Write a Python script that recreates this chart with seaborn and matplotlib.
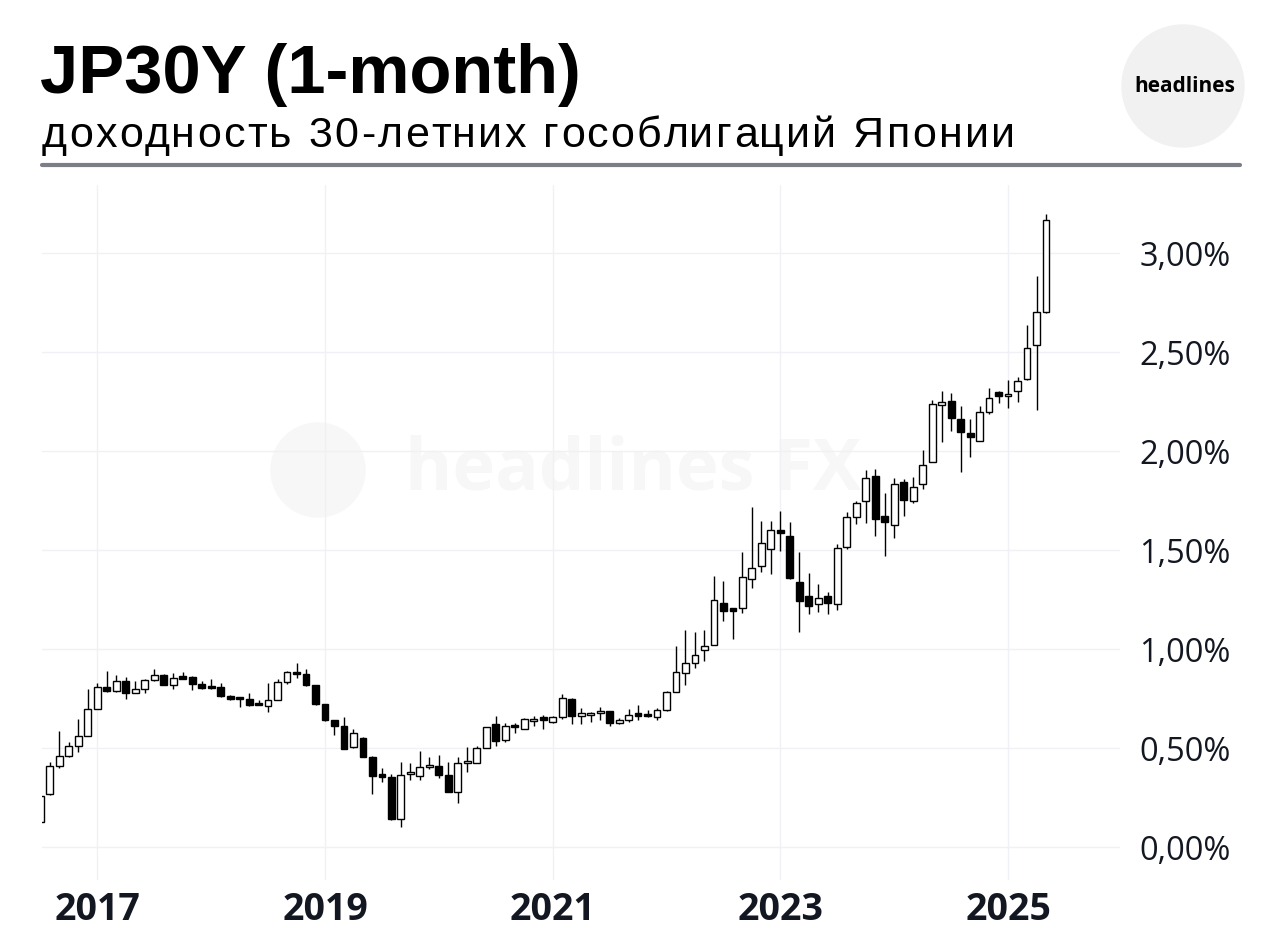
import numpy as np
import pandas as pd
import matplotlib
matplotlib.use("Agg")
import matplotlib.pyplot as plt
import seaborn as sns
from matplotlib.patches import Ellipse
from matplotlib.lines import Line2D
from matplotlib.font_manager import FontProperties

# =========================================
# Data: JP30Y monthly candles, Jul 2016 - May 2025 (yield, %)
# =========================================

months = pd.date_range("2016-07-01", "2025-05-01", freq="MS")

opens = [
    0.13, 0.27, 0.41, 0.46, 0.51, 0.56,
    0.70, 0.81, 0.79, 0.84, 0.78, 0.80, 0.845, 0.87, 0.82, 0.857, 0.86, 0.826,
    0.81, 0.81, 0.765, 0.75, 0.75, 0.72, 0.716, 0.745, 0.833, 0.887, 0.876, 0.82,
    0.725, 0.643, 0.613, 0.505, 0.552, 0.458, 0.362, 0.357, 0.143, 0.37, 0.36, 0.406,
    0.41, 0.365, 0.28, 0.425, 0.428, 0.50, 0.621, 0.54, 0.61, 0.60, 0.638, 0.652,
    0.632, 0.657, 0.749, 0.665, 0.668, 0.678, 0.688, 0.629, 0.641, 0.666, 0.665, 0.66,
    0.695, 0.785, 0.881, 0.93, 0.998, 1.022, 1.234, 1.205, 1.208, 1.356, 1.42, 1.505,
    1.605, 1.573, 1.341, 1.269, 1.231, 1.269, 1.231, 1.519, 1.669, 1.75, 1.877, 1.671,
    1.628, 1.846, 1.747, 1.834, 1.944, 2.236, 2.255, 2.164, 2.091, 2.052, 2.198, 2.298,
    2.28, 2.305, 2.364, 2.537, 2.702,
]
highs = [
    0.30, 0.43, 0.59, 0.53, 0.65, 0.80,
    0.83, 0.89, 0.87, 0.86, 0.84, 0.85, 0.90, 0.875, 0.88, 0.885, 0.865, 0.84,
    0.85, 0.83, 0.77, 0.76, 0.78, 0.745, 0.83, 0.85, 0.89, 0.93, 0.90, 0.82,
    0.725, 0.645, 0.657, 0.596, 0.555, 0.46, 0.40, 0.37, 0.43, 0.425, 0.487, 0.458,
    0.466, 0.433, 0.455, 0.508, 0.512, 0.61, 0.665, 0.63, 0.63, 0.655, 0.665, 0.668,
    0.665, 0.774, 0.755, 0.702, 0.685, 0.708, 0.69, 0.654, 0.697, 0.717, 0.695, 0.705,
    0.79, 1.017, 1.098, 1.085, 1.098, 1.37, 1.347, 1.21, 1.493, 1.72, 1.649, 1.65,
    1.697, 1.644, 1.492, 1.383, 1.331, 1.291, 1.534, 1.696, 1.75, 1.907, 1.91, 1.792,
    1.863, 1.86, 1.868, 2.007, 2.257, 2.304, 2.296, 2.231, 2.164, 2.231, 2.319, 2.305,
    2.36, 2.374, 2.638, 2.887, 3.199,
]
lows = [
    0.08, 0.265, 0.40, 0.455, 0.48, 0.56,
    0.70, 0.785, 0.785, 0.75, 0.78, 0.78, 0.84, 0.82, 0.80, 0.85, 0.795, 0.80,
    0.80, 0.76, 0.745, 0.71, 0.715, 0.717, 0.685, 0.745, 0.825, 0.857, 0.815, 0.72,
    0.64, 0.567, 0.495, 0.50, 0.455, 0.27, 0.33, 0.14, 0.104, 0.34, 0.34, 0.394,
    0.348, 0.28, 0.222, 0.382, 0.428, 0.50, 0.512, 0.53, 0.576, 0.598, 0.613, 0.598,
    0.63, 0.648, 0.621, 0.623, 0.635, 0.644, 0.615, 0.625, 0.632, 0.644, 0.66, 0.644,
    0.69, 0.785, 0.822, 0.908, 0.941, 1.02, 1.144, 1.05, 1.183, 1.31, 1.392, 1.38,
    1.497, 1.355, 1.09, 1.176, 1.188, 1.179, 1.201, 1.505, 1.632, 1.637, 1.573, 1.471,
    1.564, 1.674, 1.738, 1.809, 1.944, 2.046, 2.105, 1.897, 1.973, 2.05, 2.19, 2.242,
    2.217, 2.247, 2.36, 2.209, 2.70,
]
closes = [
    0.26, 0.41, 0.46, 0.51, 0.56, 0.70,
    0.81, 0.79, 0.84, 0.78, 0.80, 0.845, 0.87, 0.82, 0.855, 0.852, 0.825, 0.803,
    0.805, 0.765, 0.75, 0.748, 0.72, 0.718, 0.745, 0.833, 0.886, 0.875, 0.818, 0.724,
    0.643, 0.613, 0.497, 0.576, 0.458, 0.36, 0.357, 0.143, 0.365, 0.377, 0.406, 0.412,
    0.365, 0.281, 0.428, 0.43, 0.50, 0.609, 0.539, 0.613, 0.606, 0.648, 0.648, 0.645,
    0.66, 0.756, 0.665, 0.668, 0.67, 0.69, 0.627, 0.644, 0.666, 0.665, 0.663, 0.692,
    0.785, 0.886, 0.932, 0.971, 1.019, 1.251, 1.195, 1.195, 1.364, 1.41, 1.539, 1.605,
    1.585, 1.358, 1.242, 1.221, 1.26, 1.235, 1.514, 1.669, 1.738, 1.865, 1.657, 1.644,
    1.834, 1.755, 1.818, 1.931, 2.24, 2.238, 2.167, 2.096, 2.071, 2.198, 2.27, 2.281,
    2.285, 2.357, 2.524, 2.705, 3.168,
]

year_ticks = [2017, 2019, 2021, 2023, 2025]
y_ticks = [0.0, 0.5, 1.0, 1.5, 2.0, 2.5, 3.0]

title = "JP30Y (1-month)"
subtitle = "доходность 30-летних гособлигаций Японии"

df = pd.DataFrame({"month": months, "open": opens, "high": highs,
                   "low": lows, "close": closes})
# position on the x axis: months since Jan 2017
df["pos"] = (df["month"].dt.year - 2017) * 12 + df["month"].dt.month - 1
df["up"] = df["close"] >= df["open"]

# =========================================
# Figure
# =========================================

sns.set_style("white")
plt.rcParams["font.family"] = ["Open Sans", "DejaVu Sans"]

W, H = 1280, 951
fig = plt.figure(figsize=(W / 100, H / 100), dpi=100)
ax = fig.add_axes([42 / W, 1 - 880 / H, (1120 - 42) / W, (880 - 185) / H])

# faint watermark
ax.add_patch(Ellipse((318 / W, 1 - 470 / H), 94 / W, 94 / H,
                     transform=fig.transFigure, color="#f7f7f7", zorder=0))
ax.text(405 / W, 1 - 470 / H, "headlines FX", transform=fig.transFigure,
        fontsize=52, fontweight="bold", color="#f7f7f7", va="center",
        ha="left", zorder=0)

# wicks
ax.vlines(df["pos"], df["low"], df["high"], color="black", lw=1, zorder=2)

# bodies
body_low = np.minimum(df["open"], df["close"])
body_h = np.maximum((df["close"] - df["open"]).abs(), 0.012)
ax.bar(df["pos"], body_h, bottom=body_low, width=0.72,
       color=np.where(df["up"], "white", "black"),
       edgecolor="black", linewidth=1, zorder=3)

# axes styling
ax.set_xlim(-5.83, 107.8)
ax.set_ylim(-0.165, 3.345)

ax.yaxis.tick_right()
ax.set_yticks(y_ticks)
ax.set_yticklabels([f"{v:.2f}%".replace(".", ",") for v in y_ticks],
                   fontsize=23.5, color="#131722")
ax.set_xticks([(y - 2017) * 12 for y in year_ticks])
ax.set_xticklabels([str(y) for y in year_ticks], fontsize=27,
                   fontweight="bold", color="#131722")
ax.tick_params(axis="y", length=0, pad=14)
ax.tick_params(axis="x", length=0, pad=8)

ax.grid(True, color="#f0f1f4", lw=1, zorder=0)
ax.set_axisbelow(True)
for s in ax.spines.values():
    s.set_visible(False)
ax.patch.set_alpha(0)

# =========================================
# Header
# =========================================

fig.text(40 / W, 1 - 93 / H, title, fontsize=49.5,
         fontweight="bold", family=["Liberation Sans", "DejaVu Sans"],
         va="baseline", ha="left", color="black")

# subtitle is slightly letter-spaced: place characters one by one
renderer = fig.canvas.get_renderer()
sub_prop = FontProperties(family="Liberation Sans", size=31)
x0, x1 = 42, 1015


def text_w(s):
    return renderer.get_text_width_height_descent(s, sub_prop, ismath=False)[0]


natural = text_w(subtitle)
gap = (x1 - x0 - natural) / (len(subtitle) - 1)
bar_w = text_w("|")
for i, ch in enumerate(subtitle):
    if ch == " ":
        continue
    off = text_w(subtitle[:i] + "|") - bar_w if i else 0
    fig.text((x0 + off + gap * i) / W, 1 - 147 / H, ch, fontproperties=sub_prop,
             va="baseline", ha="left", color="black")

fig.add_artist(Line2D([42 / W, 1240 / W], [1 - 165 / H] * 2, lw=3,
                      color="#7b7e87"))

fig.add_artist(Ellipse((1183 / W, 1 - 86 / H), 122 / W, 122 / H,
                       transform=fig.transFigure, color="#f1f1f1", zorder=1))
fig.text(1185 / W, 1 - 86 / H, "headlines", fontsize=15, fontweight="bold",
         ha="center", va="center", color="black", zorder=2)

fig.savefig("out.png", dpi=100, facecolor="white")
